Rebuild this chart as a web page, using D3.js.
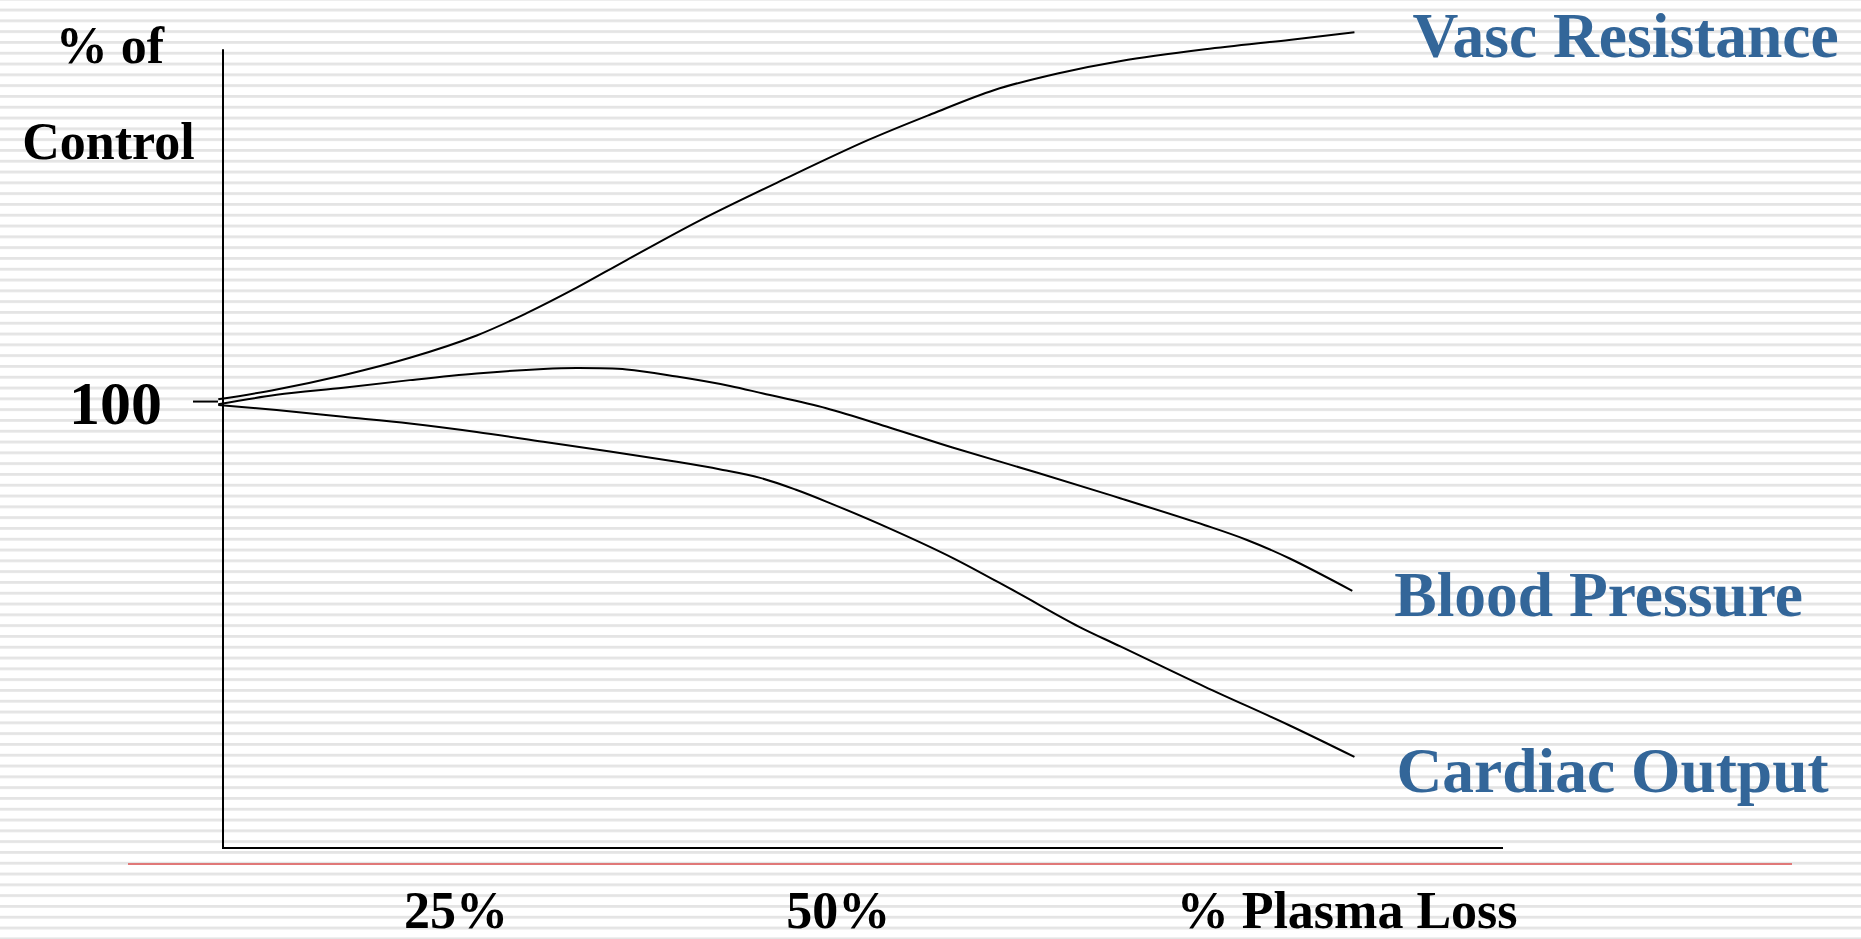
<!DOCTYPE html>
<html>
<head>
<meta charset="utf-8">
<script src="https://cdn.jsdelivr.net/npm/d3@7"></script>
<style>
  html, body { margin: 0; padding: 0; background: #ffffff; overflow: hidden; }
  svg { display: block; }
  text { font-family: "Liberation Serif", "Times New Roman", serif; font-weight: bold; }
</style>
</head>
<body>
<svg id="chart" width="1861" height="939"></svg>
<script>
// ---------- data ----------
const seriesNames = ["Vasc Resistance", "Blood Pressure", "Cardiac Output"];

// x: % plasma loss, y: % of control
const vascX = [9.44, 13.26, 17.62, 21.98, 26.35, 29.62, 32.89, 36.16, 40.96, 46.47, 51.98, 56.11, 60.23, 64.36, 68.5, 74.0, 79.51, 83.78];
const vascY = [100.5, 102.7, 105.9, 109.8, 114.8, 119.8, 125.5, 131.7, 140.6, 149.8, 158.6, 164.4, 169.8, 173.5, 176.3, 178.9, 181.0, 182.7];

const bpX = [9.44, 13.26, 17.62, 21.98, 26.35, 30.71, 32.89, 36.16, 39.44, 42.92, 45.09, 49.22, 53.35, 57.48, 62.99, 68.5, 74.0, 76.75, 79.51, 83.64];
const bpY = [99.4, 101.5, 103.1, 104.8, 106.3, 107.3, 107.5, 107.2, 105.6, 103.5, 101.8, 98.5, 94.2, 89.7, 84.1, 78.3, 72.3, 69.0, 64.9, 57.6];

const coX = [9.44, 13.26, 17.62, 21.98, 26.35, 30.71, 35.07, 39.44, 42.3, 44.9, 47.2, 49.22, 53.35, 57.48, 61.61, 65.74, 68.5, 74.0, 79.51, 83.78];
const coY = [99.2, 98.1, 96.6, 95.1, 93.2, 91.0, 88.8, 86.5, 84.8, 82.9, 80.3, 77.6, 71.6, 65.0, 57.4, 49.6, 45.1, 36.1, 27.5, 20.4];

const xTickValues = [25, 50];
const xTickLabels = ["25%", "50%"];
const xTitle = "% Plasma Loss";
const xTitleAt = 83.3;
const yTickValues = [100];
const yTickLabels = ["100"];
const yTitleLines = ["% of", "Control"];
const xDomain = [9.75, 93.5];
const yDomain = [0, 178.9];

// ---------- drawing ----------
const svg = d3.select("#chart");
const W = 1861, H = 939;

// striped background
const defs = svg.append("defs");
const pat = defs.append("pattern")
  .attr("id", "stripes")
  .attr("patternUnits", "userSpaceOnUse")
  .attr("width", 20).attr("height", 10.8)
  .attr("y", 8.6);
pat.append("rect").attr("width", 20).attr("height", 10.8).attr("fill", "#ffffff");
pat.append("rect").attr("y", 0).attr("width", 20).attr("height", 2.8).attr("fill", "#e4e4e4");
svg.append("rect").attr("width", W).attr("height", H).attr("fill", "url(#stripes)");

const x = d3.scaleLinear().domain(xDomain).range([223, 1503]);
const y = d3.scaleLinear().domain(yDomain).range([848, 49.3]);

// decorative red rule
svg.append("line")
  .attr("x1", 128).attr("x2", 1792)
  .attr("y1", 864).attr("y2", 864)
  .attr("stroke", "#e07878").attr("stroke-width", 2);

// axes lines
svg.append("line")
  .attr("x1", x(xDomain[0])).attr("x2", x(xDomain[0]))
  .attr("y1", y(yDomain[1])).attr("y2", y(yDomain[0]))
  .attr("stroke", "#000").attr("stroke-width", 2);
svg.append("line")
  .attr("x1", x(xDomain[0]) - 1).attr("x2", x(xDomain[1]))
  .attr("y1", y(yDomain[0])).attr("y2", y(yDomain[0]))
  .attr("stroke", "#000").attr("stroke-width", 2);

// y tick
yTickValues.forEach((v, i) => {
  svg.append("line")
    .attr("x1", x(xDomain[0]) - 30).attr("x2", x(xDomain[0]) - 5)
    .attr("y1", y(v)).attr("y2", y(v))
    .attr("stroke", "#000").attr("stroke-width", 2);
  svg.append("text")
    .attr("x", 162).attr("y", y(v) + 22)
    .attr("text-anchor", "end")
    .attr("font-size", 62)
    .attr("fill", "#000")
    .text(yTickLabels[i]);
});

// y title
svg.append("text").attr("x", 110).attr("y", 63).attr("text-anchor", "middle")
  .attr("font-size", 52).attr("fill", "#000").text(yTitleLines[0]);
svg.append("text").attr("x", 108.5).attr("y", 159).attr("text-anchor", "middle")
  .attr("font-size", 52).attr("fill", "#000").text(yTitleLines[1]);

// x tick labels
xTickValues.forEach((v, i) => {
  svg.append("text")
    .attr("x", x(v)).attr("y", 928)
    .attr("text-anchor", "middle")
    .attr("font-size", 52)
    .attr("fill", "#000")
    .text(xTickLabels[i]);
});
svg.append("text")
  .attr("x", x(xTitleAt)).attr("y", 928)
  .attr("text-anchor", "middle")
  .attr("font-size", 52)
  .attr("fill", "#000")
  .text(xTitle);

// curves
const seriesData = [
  vascX.map((d, i) => [d, vascY[i]]),
  bpX.map((d, i) => [d, bpY[i]]),
  coX.map((d, i) => [d, coY[i]])
];
const line = d3.line()
  .x(d => x(d[0]))
  .y(d => y(d[1]))
  .curve(d3.curveCatmullRom.alpha(0.5));

svg.append("g").selectAll("path")
  .data(seriesData)
  .join("path")
  .attr("d", line)
  .attr("fill", "none")
  .attr("stroke", "#000")
  .attr("stroke-width", 2)
  .attr("stroke-linejoin", "round");

// series labels
const labelOffsets = [[58, 25], [42, 25], [42, 35]];
seriesData.forEach((s, i) => {
  const last = s[s.length - 1];
  svg.append("text")
    .attr("x", x(last[0]) + labelOffsets[i][0])
    .attr("y", y(last[1]) + labelOffsets[i][1])
    .attr("font-size", 63.5)
    .attr("fill", "#336699")
    .text(seriesNames[i]);
});
</script>
</body>
</html>
